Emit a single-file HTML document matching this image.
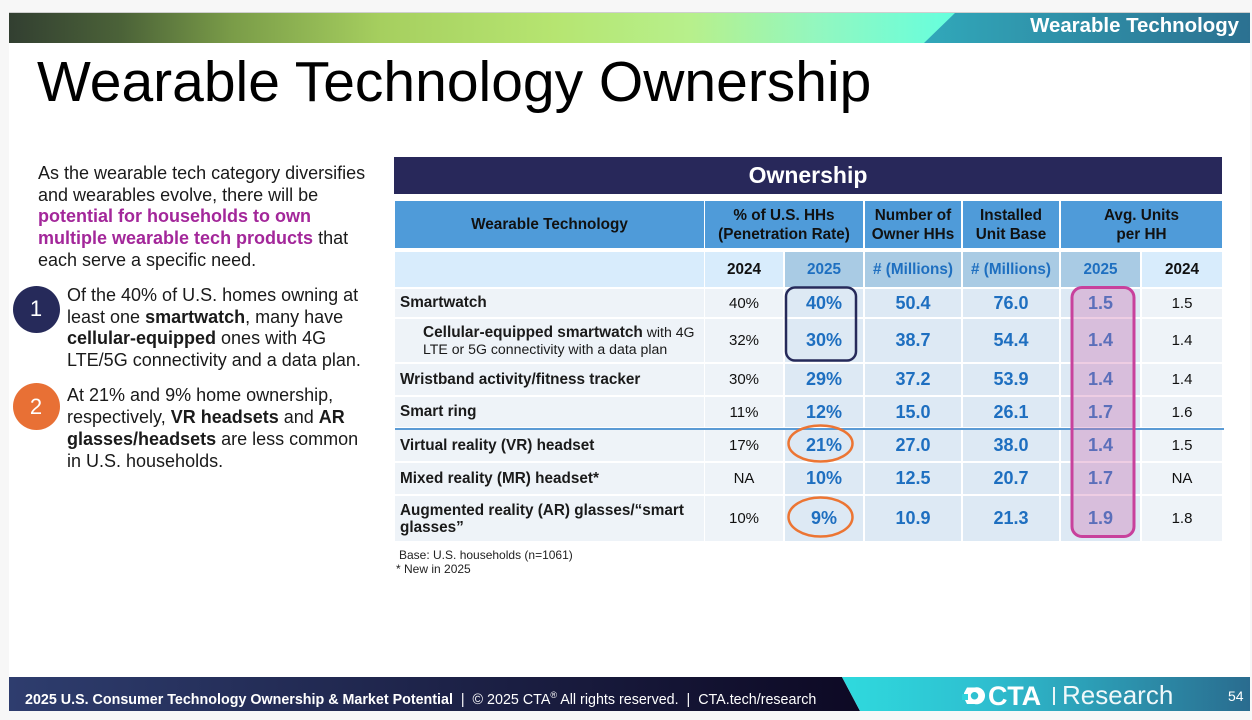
<!DOCTYPE html>
<html><head><meta charset="utf-8">
<style>
*{margin:0;padding:0;box-sizing:border-box}
html,body{width:1252px;height:720px;overflow:hidden;background:#f7f7f7}
body{position:relative;font-family:"Liberation Sans",Arial,sans-serif;color:#1a1a1a}
.slide{position:absolute;left:9px;top:12px;width:1241px;height:699px;background:#fff}
.abs{position:absolute}
.title{position:absolute;left:37px;top:52px;font-size:57px;color:#000;white-space:nowrap;line-height:60px}
.ptxt{position:absolute;font-size:18px;line-height:21.7px;white-space:nowrap;color:#1a1a1a}
.pur{color:#a3279a;font-weight:bold}
.circ{position:absolute;width:47px;height:47px;border-radius:50%;color:#fff;font-size:22px;display:flex;align-items:center;justify-content:center}
.cell{position:absolute;display:flex;align-items:center;justify-content:center;text-align:center}
.a{left:395px;width:309px;justify-content:flex-start;padding-left:5px;text-align:left}
.b{left:705px;width:78px}
.c{left:785px;width:78px}
.d{left:865px;width:96px}
.e{left:963px;width:96px}
.f{left:1061px;width:79px}
.g{left:1142px;width:80px}
.hdr{top:201px;height:47px;background:#4f9bd9;font-weight:bold;font-size:15.3px;line-height:19px;color:#111}
.sub{top:252px;height:35px;font-weight:bold;font-size:15.3px}
.lt{background:#d8ecfc;color:#111}
.dk{background:#a9cbe4;color:#1e6fc0}
.r1{top:289px;height:28px}
.r2{top:319px;height:43px}
.r3{top:364px;height:31px}
.r4{top:397px;height:30px}
.r5{top:430px;height:31px}
.r6{top:463px;height:31px}
.r7{top:496px;height:45px}
.l{background:#eef3f8;font-size:15px;color:#111}
.lb{background:#eef3f8;font-size:15.3px;font-weight:bold;color:#1a1a1a}
.v{background:#dde9f4;font-size:18px;font-weight:bold;color:#1e6fc0}
.foot{position:absolute;font-size:12px;color:#222;white-space:nowrap}
</style></head>
<body>
<div class="slide"></div>

<!-- top bar -->
<svg class="abs" style="left:9px;top:12px" width="1241" height="31" viewBox="0 0 1241 31">
<defs>
<linearGradient id="tg" x1="0" x2="1241" y1="0" y2="0" gradientUnits="userSpaceOnUse">
<stop offset="0" stop-color="#323f31"/>
<stop offset="0.09" stop-color="#4b6238"/>
<stop offset="0.18" stop-color="#7a9c48"/>
<stop offset="0.3" stop-color="#a6cf5f"/>
<stop offset="0.44" stop-color="#b6e571"/>
<stop offset="0.55" stop-color="#b7f08c"/>
<stop offset="0.65" stop-color="#93f7bf"/>
<stop offset="0.77" stop-color="#62ffe0"/>
</linearGradient>
<linearGradient id="tt" x1="915" x2="1241" y1="0" y2="0" gradientUnits="userSpaceOnUse">
<stop offset="0" stop-color="#31a8ba"/>
<stop offset="1" stop-color="#2c7191"/>
</linearGradient>
</defs>
<rect x="0" y="0" width="1241" height="31" fill="url(#tg)"/>
<polygon points="947,0 1241,0 1241,31 915,31" fill="url(#tt)"/>
<rect x="0" y="0" width="1241" height="1" fill="#cfcfcf"/>
</svg>
<div class="abs" style="right:13px;top:14px;font-size:20.4px;font-weight:bold;color:#fff;line-height:24px;white-space:nowrap">Wearable Technology</div>

<div class="title">Wearable Technology Ownership</div>

<!-- left text -->
<div class="ptxt" style="left:38px;top:163px">As the wearable tech category diversifies<br>and wearables evolve, there will be<br><span class="pur">potential for households to own</span><br><span class="pur">multiple wearable tech products</span> that<br>each serve a specific need.</div>

<div class="circ" style="left:12.5px;top:285.5px;background:#262a5a">1</div>
<div class="ptxt" style="left:67px;top:285px">Of the 40% of U.S. homes owning at<br>least one <b>smartwatch</b>, many have<br><b>cellular-equipped</b> ones with 4G<br>LTE/5G connectivity and a data plan.</div>

<div class="circ" style="left:12.5px;top:383px;background:#e87035">2</div>
<div class="ptxt" style="left:67px;top:385.4px">At 21% and 9% home ownership,<br>respectively, <b>VR headsets</b> and <b>AR</b><br><b>glasses/headsets</b> are less common<br>in U.S. households.</div>

<!-- table title -->
<div class="cell" style="left:394px;top:157px;width:828px;height:37px;background:#28285a;color:#fff;font-weight:bold;font-size:23px">Ownership</div>

<!-- header -->
<div class="cell hdr a" style="justify-content:center;padding-left:0">Wearable Technology</div>
<div class="cell hdr" style="left:705px;width:158px">% of U.S. HHs<br>(Penetration Rate)</div>
<div class="cell hdr d">Number of<br>Owner HHs</div>
<div class="cell hdr e">Installed<br>Unit Base</div>
<div class="cell hdr" style="left:1061px;width:161px">Avg. Units<br>per HH</div>

<!-- subheader -->
<div class="cell sub a lt"></div>
<div class="cell sub b lt">2024</div>
<div class="cell sub c dk">2025</div>
<div class="cell sub d dk"># (Millions)</div>
<div class="cell sub e dk"># (Millions)</div>
<div class="cell sub f dk">2025</div>
<div class="cell sub g lt">2024</div>

<!-- rows -->
<div class="cell r1 a lb">Smartwatch</div>
<div class="cell r1 b l">40%</div>
<div class="cell r1 c v">40%</div>
<div class="cell r1 d v">50.4</div>
<div class="cell r1 e v">76.0</div>
<div class="cell r1 f v">1.5</div>
<div class="cell r1 g l">1.5</div>

<div class="cell r2 a l" style="padding-left:28px;font-size:14.1px;line-height:17px;color:#1a1a1a;white-space:nowrap"><div><b style="font-size:15.4px">Cellular-equipped smartwatch</b> with 4G<br>LTE or 5G connectivity with a data plan</div></div>
<div class="cell r2 b l">32%</div>
<div class="cell r2 c v">30%</div>
<div class="cell r2 d v">38.7</div>
<div class="cell r2 e v">54.4</div>
<div class="cell r2 f v">1.4</div>
<div class="cell r2 g l">1.4</div>

<div class="cell r3 a lb">Wristband activity/fitness tracker</div>
<div class="cell r3 b l">30%</div>
<div class="cell r3 c v">29%</div>
<div class="cell r3 d v">37.2</div>
<div class="cell r3 e v">53.9</div>
<div class="cell r3 f v">1.4</div>
<div class="cell r3 g l">1.4</div>

<div class="cell r4 a lb">Smart ring</div>
<div class="cell r4 b l">11%</div>
<div class="cell r4 c v">12%</div>
<div class="cell r4 d v">15.0</div>
<div class="cell r4 e v">26.1</div>
<div class="cell r4 f v">1.7</div>
<div class="cell r4 g l">1.6</div>

<div class="abs" style="left:395px;top:427.5px;width:829px;height:2px;background:#5b9bd5"></div>

<div class="cell r5 a lb">Virtual reality (VR) headset</div>
<div class="cell r5 b l">17%</div>
<div class="cell r5 c v">21%</div>
<div class="cell r5 d v">27.0</div>
<div class="cell r5 e v">38.0</div>
<div class="cell r5 f v">1.4</div>
<div class="cell r5 g l">1.5</div>

<div class="cell r6 a lb">Mixed reality (MR) headset*</div>
<div class="cell r6 b l">NA</div>
<div class="cell r6 c v">10%</div>
<div class="cell r6 d v">12.5</div>
<div class="cell r6 e v">20.7</div>
<div class="cell r6 f v">1.7</div>
<div class="cell r6 g l">NA</div>

<div class="cell r7 a lb" style="line-height:17px">Augmented reality (AR) glasses/“smart<br>glasses”</div>
<div class="cell r7 b l">10%</div>
<div class="cell r7 c v">9%</div>
<div class="cell r7 d v">10.9</div>
<div class="cell r7 e v">21.3</div>
<div class="cell r7 f v">1.9</div>
<div class="cell r7 g l">1.8</div>

<!-- overlays -->
<svg class="abs" style="left:0;top:0;pointer-events:none" width="1252" height="720">
<rect x="786" y="287.5" width="70" height="73" rx="9" ry="9" fill="none" stroke="#262a5a" stroke-width="2.5"/>
<rect x="1072" y="287.5" width="62" height="249" rx="10" ry="10" fill="rgba(207,113,175,0.35)" stroke="#c8419c" stroke-width="3"/>
<ellipse cx="820.5" cy="443.5" rx="32" ry="18" fill="none" stroke="#ec7533" stroke-width="2.5"/>
<ellipse cx="820.5" cy="517" rx="32" ry="19.5" fill="none" stroke="#ec7533" stroke-width="2.5"/>
</svg>

<div class="foot" style="left:399px;top:548px">Base: U.S. households (n=1061)</div>
<div class="foot" style="left:396px;top:562px">* New in 2025</div>

<!-- footer -->
<svg class="abs" style="left:9px;top:677px" width="1241" height="34" viewBox="0 0 1241 34">
<defs>
<linearGradient id="fd" x1="0" x2="851" y1="0" y2="0" gradientUnits="userSpaceOnUse">
<stop offset="0" stop-color="#2e3d6e"/>
<stop offset="1" stop-color="#0d0924"/>
</linearGradient>
<linearGradient id="ft" x1="833" x2="1241" y1="0" y2="0" gradientUnits="userSpaceOnUse">
<stop offset="0" stop-color="#2fdade"/>
<stop offset="0.35" stop-color="#2ebfd0"/>
<stop offset="1" stop-color="#2a6c8f"/>
</linearGradient>
</defs>
<polygon points="0,0 833,0 851,34 0,34" fill="url(#fd)"/>
<polygon points="833,0 1241,0 1241,34 851,34" fill="url(#ft)"/>
</svg>
<div class="abs" style="left:25px;top:686px;font-size:14.3px;color:#fff;white-space:nowrap;line-height:18px"><b>2025 U.S. Consumer Technology Ownership &amp; Market Potential</b>&nbsp; |&nbsp; © 2025 CTA<sup style="font-size:9px">®</sup> All rights reserved.&nbsp; |&nbsp; CTA.tech/research</div>

<!-- logo -->
<svg class="abs" style="left:962px;top:686px" width="24" height="19" viewBox="0 0 24 19">
<path d="M12.5,1.5 A8.5,8.5 0 1 1 12.5,18 L5,18 L2,12 L2,7 L5,1.5 Z M12.5,6 A3.7,3.7 0 1 0 12.5,13.5 A3.7,3.7 0 1 0 12.5,6 Z" fill="#fff" fill-rule="evenodd"/>
<rect x="0" y="8" width="6" height="6" fill="#2fd3dc"/>
</svg>
<div class="abs" style="left:988px;top:681px;font-size:27px;font-weight:bold;color:#fff;line-height:30px;letter-spacing:-0.2px">CTA</div>
<div class="abs" style="left:1053px;top:687px;width:1.5px;height:18px;background:#e9f6f8"></div>
<div class="abs" style="left:1062px;top:680px;font-size:26px;color:#eef8fa;line-height:30px;white-space:nowrap">Research</div>
<div class="abs" style="left:1228px;top:687px;font-size:14px;color:#fff;line-height:18px">54</div>

</body></html>
